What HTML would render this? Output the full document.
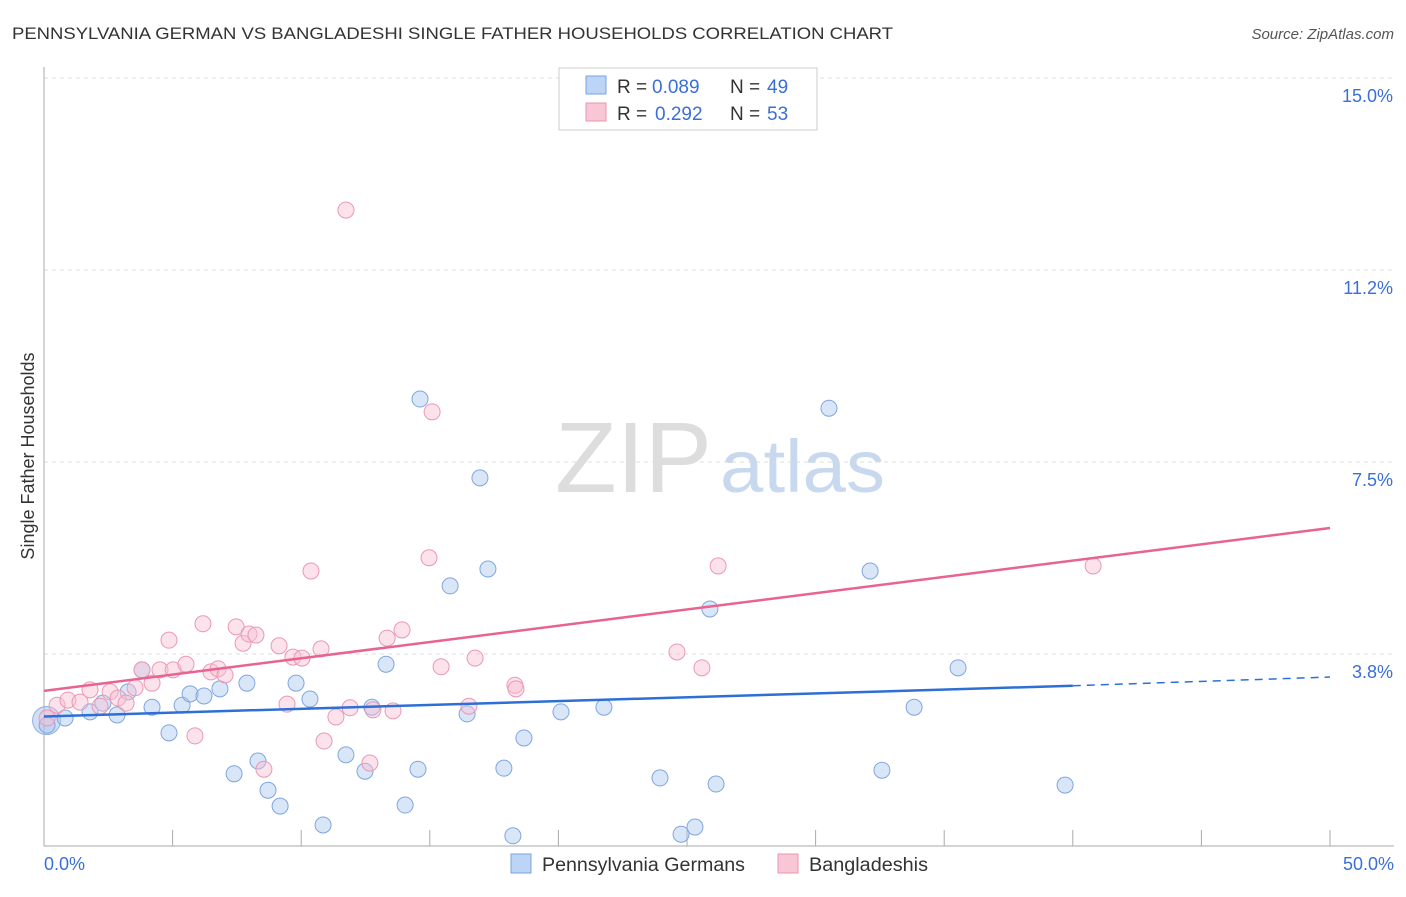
<!DOCTYPE html>
<html><head><meta charset="utf-8"><style>
body{margin:0;background:#fff;font-family:"Liberation Sans",sans-serif}
svg text{font-family:"Liberation Sans",sans-serif}
</style></head><body>
<svg id="chart" width="1406" height="892">
<text x="12" y="39" font-size="17" fill="#333" textLength="881" lengthAdjust="spacingAndGlyphs">PENNSYLVANIA GERMAN VS BANGLADESHI SINGLE FATHER HOUSEHOLDS CORRELATION CHART</text>
<text x="1394" y="39" font-size="15" fill="#555" text-anchor="end" font-style="italic">Source: ZipAtlas.com</text>
<text x="555" y="492" font-size="100" fill="#ddd" font-family="Liberation Serif" textLength="157" lengthAdjust="spacingAndGlyphs">ZIP</text>
<text x="720" y="492" font-size="74" fill="#c8d8ee" textLength="165" lengthAdjust="spacingAndGlyphs">atlas</text>
<g id="grid"></g>
<g id="axes"></g>
<g id="pts"></g>
<g id="lines"></g>
<text transform="translate(34,456) rotate(-90)" font-size="18" fill="#333" text-anchor="middle">Single Father Households</text>
<text x="44" y="870" font-size="18" fill="#3a6fd8">0.0%</text>
<text x="1394" y="870" font-size="18" fill="#3a6fd8" text-anchor="end">50.0%</text>
<g>
<rect x="559" y="68" width="258" height="62" fill="#fff" stroke="#ccc"/>
<rect x="586" y="76" width="20" height="18" fill="#bcd4f5" stroke="#7aa3e0"/>
<rect x="586" y="103" width="20" height="18" fill="#f9c6d6" stroke="#e896b0"/>
<text x="617" y="93" font-size="19" fill="#333">R =</text>
<text x="652" y="93" font-size="19" fill="#3a6fd8">0.089</text>
<text x="730" y="93" font-size="19" fill="#333">N =</text>
<text x="767" y="93" font-size="19" fill="#3a6fd8">49</text>
<text x="617" y="120" font-size="19" fill="#333">R =</text>
<text x="655" y="120" font-size="19" fill="#3a6fd8">0.292</text>
<text x="730" y="120" font-size="19" fill="#333">N =</text>
<text x="767" y="120" font-size="19" fill="#3a6fd8">53</text>
</g>
<g>
<rect x="511" y="854" width="20" height="19" fill="#bcd4f5" stroke="#7aa3e0"/>
<text x="542" y="871" font-size="19" fill="#333" textLength="203" lengthAdjust="spacingAndGlyphs">Pennsylvania Germans</text>
<rect x="778" y="854" width="20" height="19" fill="#f9c6d6" stroke="#e896b0"/>
<text x="809" y="871" font-size="19" fill="#333" textLength="119" lengthAdjust="spacingAndGlyphs">Bangladeshis</text>
</g>
</svg>
<script>
const yTicks=[15.0,11.25,7.5,3.75];
const yTickLabels=["15.0%","11.2%","7.5%","3.8%"];
const xTicks=[5,10,15,20,25,30,35,40,45,50];
const bluePx=[[47,725],[65,718],[90,712],[103,703],[117,715],[128,692],[142,670],[152,707],[169,733],[182,705],[190,694],[204,696],[220,689],[234,774],[247,683],[258,761],[268,790],[280,806],[296,683],[310,699],[323,825],[346,755],[365,771],[372,707],[386,664],[405,805],[418,769],[420,399],[450,586],[467,714],[480,478],[488,569],[504,768],[513,836],[524,738],[561,712],[604,707],[660,778],[681,834],[695,827],[710,609],[716,784],[829,408],[870,571],[882,770],[914,707],[958,668],[1065,785]];
const pinkPx=[[47,718],[57,705],[68,700],[80,702],[90,690],[100,706],[110,692],[118,698],[126,703],[135,688],[142,670],[152,683],[160,670],[169,640],[173,670],[186,664],[195,736],[203,624],[211,672],[218,669],[225,675],[236,627],[243,643],[249,634],[256,635],[264,769],[279,646],[287,704],[293,657],[302,658],[311,571],[321,649],[324,741],[336,717],[346,210],[350,708],[370,763],[373,710],[387,638],[393,711],[402,630],[429,558],[432,412],[441,667],[469,706],[475,658],[515,685],[516,689],[677,652],[702,668],[718,566],[1093,566]];
const blueX=bluePx.map(p=>+((p[0]-44)/1286*50).toFixed(2));
const blueY=bluePx.map(p=>+((846-p[1])/192*3.75).toFixed(2));
const pinkX=pinkPx.map(p=>+((p[0]-44)/1286*50).toFixed(2));
const pinkY=pinkPx.map(p=>+((846-p[1])/192*3.75).toFixed(2));
const blueTrend=[2.53,3.13,3.30];
const pinkTrend=[3.03,6.21];
const xs=v=>44+v/50*1286, ys=v=>846-v/3.75*192;
const NS="http://www.w3.org/2000/svg";
function mk(tag,parent,attrs){const e=document.createElementNS(NS,tag);for(const k in attrs)e.setAttribute(k,attrs[k]);parent.appendChild(e);return e;}
const grid=document.getElementById('grid'),axes=document.getElementById('axes'),pts=document.getElementById('pts'),lines=document.getElementById('lines');
yTicks.forEach((t,i)=>{
 const l=mk('line',grid,{x1:44,x2:1394,y1:ys(t),y2:ys(t),stroke:'#ddd','stroke-dasharray':'4,4'});
 
 
 const tx=mk('text',grid,{x:1393,y:ys(t)+24,'font-size':18,fill:'#3a6fd8','text-anchor':'end'});
 tx.textContent=yTickLabels[i];
 
 
});
const ax=mk('line',axes,{x1:44,x2:44,y1:67,y2:846,stroke:'#aaa'});


const bx=mk('line',axes,{x1:44,x2:1394,y1:846,y2:846,stroke:'#aaa'});


xTicks.forEach(t=>{
 const l=mk('line',axes,{x1:xs(t),x2:xs(t),y1:830,y2:846,stroke:'#aaa'});
 
 
});
const big=mk('circle',pts,{cx:xs(0.1),cy:ys(2.45),r:14,fill:'rgba(150,185,235,0.45)',stroke:'#8fb0e0'});


blueX.forEach((x,i)=>{
 const c=mk('circle',pts,{cx:xs(x),cy:ys(blueY[i]),r:8,fill:'rgba(170,200,240,0.45)',stroke:'#7fa6e0','stroke-width':1});
 
 
});
pinkX.forEach((x,i)=>{
 const c=mk('circle',pts,{cx:xs(x),cy:ys(pinkY[i]),r:8,fill:'rgba(248,190,210,0.45)',stroke:'#eb98b4','stroke-width':1});
 
 
});
const b1=mk('line',lines,{x1:xs(0),y1:ys(blueTrend[0]),x2:xs(40),y2:ys(blueTrend[1]),stroke:'#2e6fd6','stroke-width':2.5});


const b2=mk('line',lines,{x1:xs(40),y1:ys(blueTrend[1]),x2:xs(50),y2:ys(blueTrend[2]),stroke:'#2e6fd6','stroke-width':1.5,'stroke-dasharray':'8,6'});


const p1=mk('line',lines,{x1:xs(0),y1:ys(pinkTrend[0]),x2:xs(50),y2:ys(pinkTrend[1]),stroke:'#e8638f','stroke-width':2.5});


</script>
</body></html>
